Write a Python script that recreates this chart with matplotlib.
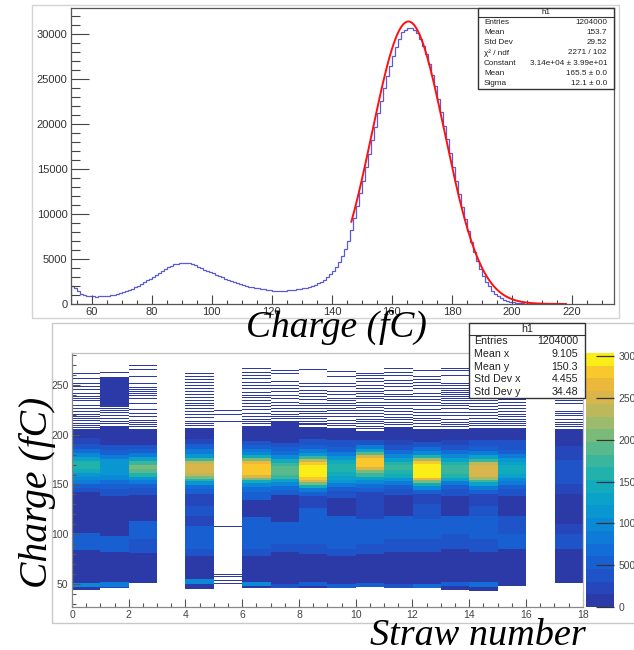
import numpy as np
import matplotlib
matplotlib.use('Agg')
import matplotlib.pyplot as plt
from matplotlib.colors import ListedColormap, BoundaryNorm
from matplotlib.patches import Rectangle
from matplotlib.ticker import MultipleLocator

plt.rcParams['font.family'] = ['Liberation Sans', 'DejaVu Sans']

# ---------------- data: 1D charge histogram (1 fC bins) ----------------
hist_first_edge = 53
hist_counts = [
    1950, 1800, 1450, 1150, 980, 900, 860, 840, 830, 835,          # 53-62
    840, 860, 900, 950, 1010, 1080, 1170, 1280, 1400, 1530,         # 63-72
    1680, 1850, 2030, 2220, 2420, 2620, 2820, 3020, 3230, 3440,     # 73-82
    3660, 3880, 4080, 4250, 4400, 4500, 4560, 4600, 4580, 4520,     # 83-92
    4430, 4300, 4150, 4020, 3820, 3700, 3600, 3400, 3250, 3100,     # 93-102
    2950, 2800, 2650, 2520, 2400, 2290, 2180, 2080, 2000, 1930,     # 103-112
    1870, 1810, 1760, 1700, 1650, 1600, 1540, 1480, 1460, 1450,     # 113-122
    1470, 1490, 1520, 1560, 1600, 1650, 1700, 1760, 1830, 1920,     # 123-132
    2020, 2150, 2300, 2480, 2700, 2950, 3300, 3700, 4150, 4700,     # 133-142
    5300, 6100, 7000, 8200, 9600, 10900, 12300, 13700, 15200, 16700,  # 143-152
    18200, 19700, 21200, 22600, 24000, 25300, 26500, 27600, 28600, 29500,  # 153-162
    30200, 30500, 30700, 30700, 30500, 30100, 29500, 28700, 27800, 26700,  # 163-172
    25500, 24200, 22800, 21300, 19800, 18300, 16800, 15200, 13700, 12200,  # 173-182
    10800, 9400, 8100, 6900, 5800, 4800, 3900, 3150, 2500, 1950,    # 183-192
    1500, 1150, 870, 650, 480, 350, 250, 180, 130, 90,             # 193-202
    65, 45, 30, 20, 14, 9, 6, 4, 2, 1,                             # 203-212
    1, 0,                                                          # 213-214
]
fit_constant = 3.14e4
fit_mean = 165.5
fit_sigma = 12.1
fit_range = (146.5, 218.0)

stats1_title = "h1"
stats1_labels = ["Entries", "Mean", "Std Dev", "\u03c7\u00b2 / ndf", "Constant", "Mean", "Sigma"]
stats1_values = ["1204000", "153.7", "29.52", "2271 / 102",
                 "3.14e+04 \u00b1 3.99e+01", "165.5 \u00b1 0.0", "12.1 \u00b1 0.0"]

stats2_title = "h1"
stats2_labels = ["Entries", "Mean x", "Mean y", "Std Dev x", "Std Dev y"]
stats2_values = ["1204000", "9.105", "150.3", "4.455", "34.48"]

# ---------------- data: 2D straw vs charge (segments: lo, hi, count) ----------------
sparse_count = 60
seg = {
    0: [(44,47,140),(47,51,950),(51,84,110),(84,92,560),(92,101,470),(101,142,120),(142,146,420),
        (146,150,600),(150,154,800),(154,158,1000),(158,162,1200),(162,166,1400),(166,170,1550),
        (170,174,1550),(174,178,1300),(178,182,950),(182,186,650),(186,191,420),(191,197,250),(197,206,120)],
    1: [(46,47,200),(47,52,900),(52,82,120),(82,98,480),(98,138,110),(138,145,380),(145,150,560),
        (150,155,750),(155,160,950),(160,165,1100),(165,172,1200),(172,176,1100),(176,180,850),
        (180,185,550),(185,190,350),(190,209,110),(228,258,100)],
    2: [(51,81,110),(81,95,450),(95,113,500),(113,139,110),(139,146,400),(146,150,600),(150,154,850),
        (154,158,1200),(158,162,1600),(162,166,1900),(166,170,2000),(170,174,1750),(174,178,1300),
        (178,182,900),(182,186,600),(186,190,380),(190,206,110)],
    4: [(45,50,150),(50,55,1000),(55,78,110),(78,85,350),(85,95,560),(95,108,500),(108,118,300),
        (118,128,420),(128,140,200),(140,145,500),(145,149,750),(149,153,1100),(153,156,1550),
        (156,159,2050),(159,162,2400),(162,171,2550),(171,174,2350),(174,177,1750),(177,181,1200),
        (181,186,800),(186,191,500),(191,196,300),(196,207,110)],
    5: [],
    6: [(46,48,150),(48,52,1000),(52,78,110),(78,85,350),(85,100,560),(100,117,520),(117,134,150),
        (134,142,520),(142,147,750),(147,151,1050),(151,154,1500),(154,157,2000),(157,160,2500),
        (160,163,2750),(163,171,2850),(171,174,2600),(174,177,2000),(177,180,1400),(180,183,1050),
        (183,186,800),(186,190,550),(190,194,420),(194,209,110)],
    7: [(46,50,400),(50,82,110),(82,90,400),(90,112,520),(112,139,110),(139,144,480),(144,148,700),
        (148,152,1000),(152,156,1350),(156,160,1700),(160,164,1900),(164,169,1950),(169,172,1800),
        (172,176,1450),(176,180,1050),(180,184,750),(184,188,520),(188,192,350),(192,214,110)],
    8: [(46,48,150),(48,52,520),(52,80,120),(80,90,420),(90,110,600),(110,126,500),(126,138,220),
        (138,142,550),(142,146,900),(146,149,1400),(149,152,2000),(152,155,2500),(155,158,2850),
        (158,170,3000),(170,173,2850),(173,176,2300),(176,179,1700),(179,182,1200),(182,186,800),
        (186,190,550),(190,196,350),(196,208,110)],
    9: [(46,50,500),(50,78,110),(78,85,400),(85,95,600),(95,118,500),(118,136,110),(136,143,350),
        (143,147,600),(147,151,850),(151,155,1100),(155,159,1350),(159,163,1500),(163,167,1600),
        (167,171,1600),(171,175,1450),(175,179,1200),(179,183,850),(183,188,600),(188,195,380),(195,207,110)],
    10: [(47,51,500),(51,80,110),(80,90,400),(90,115,550),(115,130,300),(130,142,200),(142,146,500),
         (146,150,700),(150,154,950),(154,158,1300),(158,162,1700),(162,165,2100),(165,168,2500),
         (168,177,2750),(177,180,2500),(180,183,1900),(183,186,1300),(186,190,800),(190,195,450),(195,204,110)],
    11: [(46,50,400),(50,82,110),(82,95,450),(95,118,500),(118,139,110),(139,145,380),(145,149,600),
         (149,153,900),(153,157,1200),(157,161,1450),(161,165,1650),(165,170,1750),(170,173,1650),
         (173,177,1350),(177,181,950),(181,185,650),(185,190,450),(190,195,300),(195,208,110)],
    12: [(46,50,700),(50,82,110),(82,95,400),(95,115,550),(115,130,450),(130,140,250),(140,144,550),
         (144,148,950),(148,151,1450),(151,154,2050),(154,157,2600),(157,160,2900),(160,171,3000),
         (171,174,2800),(174,177,2200),(177,180,1600),(180,184,1050),(184,188,700),(188,193,420),(193,206,110)],
    13: [(44,48,150),(48,52,600),(52,85,110),(85,100,450),(100,118,500),(118,138,110),(138,145,350),
         (145,149,600),(149,153,900),(153,157,1250),(157,161,1550),(161,165,1750),(165,170,1800),
         (170,173,1650),(173,177,1300),(177,181,950),(181,185,650),(185,190,420),(190,195,280),(195,206,110)],
    14: [(43,47,150),(47,52,700),(52,82,110),(82,95,450),(95,118,500),(118,128,400),(128,140,250),
         (140,144,550),(144,148,900),(148,152,1300),(152,155,1800),(155,158,2200),(158,161,2450),
         (161,170,2500),(170,173,2300),(173,176,1800),(176,180,1250),(180,184,850),(184,189,550),
         (189,195,350),(195,207,110)],
    15: [(48,85,110),(85,100,500),(100,118,450),(118,138,110),(138,145,350),(145,149,550),(149,153,800),
         (153,157,1050),(157,161,1250),(161,165,1400),(165,170,1450),(170,173,1350),(173,177,1100),
         (177,181,800),(181,185,550),(185,195,350),(195,207,110)],
    17: [(51,85,120),(85,100,450),(100,110,250),(110,140,150),(140,150,250),(150,160,350),
         (160,175,420),(175,189,300),(189,206,110)],
}
lines = {
    0: [207,209,211,214,216,218,220,223,226,229,234,236,238,241,245,248,251,256,261],
    1: [211,213,216,219,222,224,226,262],
    2: [208,210,212,214,218,221,225,231,236,239,241,243,245,247,251,258,265,269],
    4: [209,211,213,217,220,223,226,229,231,234,237,240,243,246,249,252,255,258,261],
    5: [50,53,57,59,107,213,220,224],
    6: [211,213,215,218,221,225,228,231,234,237,239,242,246,249,252,256,259,262,266],
    7: [216,218,220,223,226,229,232,236,239,243,246,249,253,261,264],
    8: [210,211,213,216,218,221,223,226,229,231,235,238,241,244,248,251,265],
    9: [209,211,214,218,221,224,226,229,231,234,236,240,243,248,251,258,263],
    10: [206,208,211,213,215,218,221,224,227,229,232,236,238,241,243,246,249,253,256,259,261],
    11: [210,212,215,217,220,223,226,229,232,235,238,240,244,248,251,254,259,262,266],
    12: [208,211,214,216,219,222,225,229,232,235,238,241,246,249,252,255,258,264],
    13: [208,210,212,215,219,222,226,229,231,234,236,238,240,242,244,246,249,251,259,264,266],
    14: [209,211,213,216,219,222,225,228,231,234],
    15: [209,211,213,215,218,220,223,226,229,232,235],
    17: [208,210,212,215,219,221,223,231,234],
}
n_straws = 18
charge_lo, charge_hi = 25, 285

palette = ['#2b3aa6', '#2646bc', '#1f53c8', '#1860d2', '#136dd8', '#0f7bd9', '#0c89d6',
           '#0a96d0', '#0aa2c8', '#12abbc', '#22b2ac', '#3ab69c', '#58b98c', '#7abb7c',
           '#9cbb6c', '#bcb85c', '#d8b64c', '#ecb83c', '#f8c82c', '#fbee18']
z_max = 3040

# ---------------- build 2D array ----------------
ny = charge_hi - charge_lo
H = np.zeros((ny, n_straws))
for s, segs in seg.items():
    for lo, hi, c in segs:
        H[lo - charge_lo:hi - charge_lo, s] = c
for s, ys in lines.items():
    for y in ys:
        H[y - charge_lo, s] = sparse_count
Hm = np.ma.masked_equal(H, 0)

W, Hpx = 634, 650
def fx(x): return x / W
def fy(y): return 1 - y / Hpx

fig = plt.figure(figsize=(W / 100, Hpx / 100), dpi=100)
fig.patch.set_facecolor('white')

# pads
fig.add_artist(Rectangle((fx(32), fy(318)), fx(619) - fx(32), fy(5) - fy(318),
                         transform=fig.transFigure, fill=False, ec='#d4d4d4', lw=1, zorder=-1))
fig.add_artist(Rectangle((fx(52), fy(623)), fx(700) - fx(52), fy(323) - fy(623),
                         transform=fig.transFigure, fill=False, ec='#c8c8c8', lw=1, zorder=-1))

# ---------------- top panel ----------------
ax1 = fig.add_axes([fx(71), fy(304), fx(614) - fx(71), fy(8) - fy(304)])
edges = np.arange(len(hist_counts) + 1) + hist_first_edge
ax1.stairs(hist_counts, edges, color='#5a5ad4', lw=0.9)
xf = np.linspace(fit_range[0], fit_range[1], 400)
ax1.plot(xf, fit_constant * np.exp(-0.5 * ((xf - fit_mean) / fit_sigma) ** 2), color='#ff1010', lw=1.4)
ax1.set_xlim(53.1, 234)
ax1.set_ylim(0, 32900)
ax1.xaxis.set_major_locator(MultipleLocator(20))
ax1.xaxis.set_minor_locator(MultipleLocator(5))
ax1.yaxis.set_major_locator(MultipleLocator(5000))
ax1.yaxis.set_minor_locator(MultipleLocator(1000))
ax1.tick_params(axis='x', which='major', direction='in', length=6.5, width=0.8, colors='#444',
                labelsize=8, pad=2.5, labelcolor='#333')
ax1.tick_params(axis='x', which='minor', direction='in', length=3.2, width=0.8, colors='#444')
ax1.tick_params(axis='y', which='major', direction='in', length=13, width=0.8, colors='#444',
                labelsize=8, pad=2.5, labelcolor='#333')
ax1.tick_params(axis='y', which='minor', direction='in', length=6.5, width=0.8, colors='#444')
for sp in ax1.spines.values():
    sp.set_color('#555')
    sp.set_linewidth(0.9)

# ---------------- bottom panel ----------------
ax2 = fig.add_axes([fx(72), fy(607), fx(582.7) - fx(72), fy(353) - fy(607)])
cmap = ListedColormap(palette)
norm = BoundaryNorm(np.linspace(0, z_max, len(palette) + 1), len(palette))
img = ax2.imshow(Hm, cmap=cmap, norm=norm, origin='lower', aspect='auto', interpolation='nearest',
                 extent=(0, n_straws, charge_lo, charge_hi))
ax2.set_xlim(0, 18)
ax2.set_ylim(27, 282)
ax2.xaxis.set_major_locator(MultipleLocator(2))
ax2.xaxis.set_minor_locator(MultipleLocator(0.5))
ax2.yaxis.set_major_locator(MultipleLocator(50))
ax2.yaxis.set_minor_locator(MultipleLocator(10))
ax2.tick_params(which='major', direction='in', length=6, width=0.8, colors='#555',
                labelsize=7.5, pad=2.5, labelcolor='#444')
ax2.tick_params(which='minor', direction='in', length=3, width=0.8, colors='#555')
for name, sp in ax2.spines.items():
    sp.set_color('#888' if name in ('left', 'bottom') else '#c0c0c0')
    sp.set_linewidth(0.9)

cax = fig.add_axes([fx(586), fy(607), fx(614) - fx(586), fy(353) - fy(607)])
cb = fig.colorbar(img, cax=cax, ticks=[0, 500, 1000, 1500, 2000, 2500, 3000])
cb.outline.set_visible(False)
cax.tick_params(direction='in', length=13, width=0.9, colors='#333', labelsize=7.5, pad=3,
                labelcolor='#444')
cax.minorticks_off()

# ---------------- stats boxes ----------------
def stats_box(x0, y0, x1, y1, ysep, title, labels, values, fs, lx, rx):
    fig.add_artist(Rectangle((fx(x0), fy(y1)), fx(x1) - fx(x0), fy(y0) - fy(y1),
                             transform=fig.transFigure, fc='white', ec='#333', lw=1.0, zorder=5))
    fig.add_artist(plt.Line2D([fx(x0), fx(x1)], [fy(ysep), fy(ysep)], transform=fig.transFigure,
                              color='#333', lw=0.8, zorder=6))
    fig.text(fx((x0 + x1) / 2), fy((y0 + ysep) / 2), title, ha='center', va='center',
             fontsize=fs, color='#222', zorder=7)
    rh = (y1 - ysep) / len(labels)
    for i, (lab, val) in enumerate(zip(labels, values)):
        yc = ysep + rh * (i + 0.5)
        fig.text(fx(lx), fy(yc), lab, ha='left', va='center', fontsize=fs, color='#222', zorder=7)
        fig.text(fx(rx), fy(yc), val, ha='right', va='center', fontsize=fs, color='#222', zorder=7)

stats_box(478, 8, 614, 89, 17, stats1_title, stats1_labels, stats1_values, 5.9, 484, 607)
stats_box(469, 323, 585, 398, 335, stats2_title, stats2_labels, stats2_values, 7.7, 474, 578)

# ---------------- big labels ----------------
big = dict(family=['Liberation Serif', 'DejaVu Serif'], style='italic', color='black', zorder=10)
fig.text(fx(336), fy(337), "Charge (fC)", ha='center', va='baseline', fontsize=27, **big)
fig.text(fx(478), fy(645), "Straw number", ha='center', va='baseline', fontsize=27.5, **big)
fig.text(fx(38), fy(492), "Charge (fC)", ha='center', va='center', rotation=90, fontsize=28.5, **big)

fig.savefig('out.png', dpi=100)
